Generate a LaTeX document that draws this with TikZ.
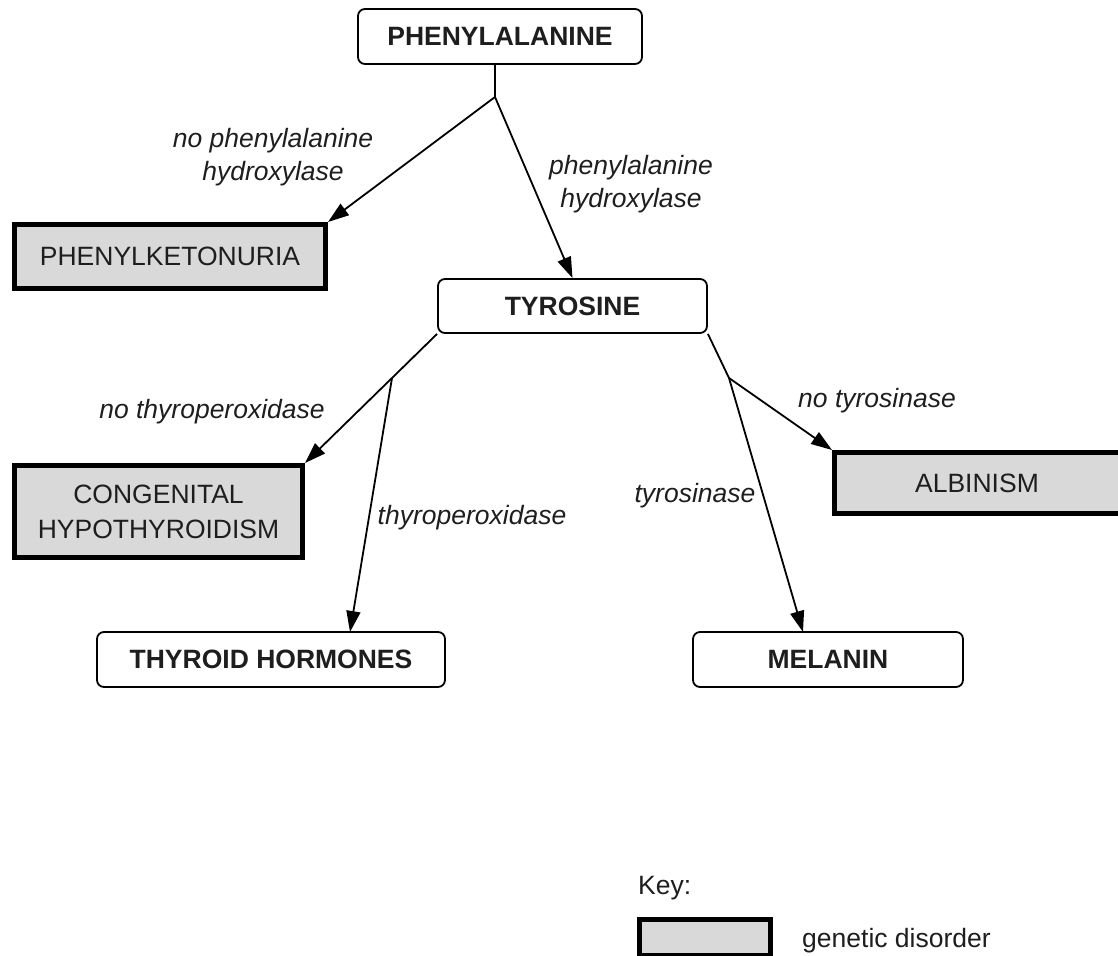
\documentclass[tikz,border=0pt]{standalone}
\usepackage{fontspec}
\setmainfont{Liberation Sans}
\usetikzlibrary{arrows.meta,calc}
\definecolor{txt}{HTML}{1E1E1E}
\definecolor{dis}{HTML}{D9D9D9}
\begin{document}
\begin{tikzpicture}[x=1pt,y=-1pt,
  every node/.style={text=txt},
  subst/.style={draw=black,line width=1.8pt,rounded corners=7pt,fill=white,
    font=\fontsize{26.5}{34}\selectfont\bfseries,inner sep=0pt},
  disorder/.style={draw=black,line width=5pt,fill=dis,
    font=\fontsize{26.5}{35}\selectfont,inner sep=0pt,align=center},
  lbl/.style={font=\fontsize{26.5}{33}\selectfont\itshape,align=center,inner sep=0pt},
  conn/.style={line width=1.8pt,draw=black},
  arr/.style={conn,-{Triangle[length=21pt,width=14pt]}}]
\useasboundingbox (0,0) rectangle (1118,955);

% substance boxes
\node[subst,minimum width=284pt,minimum height=55pt] (phe) at (500,36.5) {PHENYLALANINE};
\node[subst,minimum width=269pt,minimum height=54pt] (tyr) at (572.5,306) {TYROSINE};
\node[subst,minimum width=348pt,minimum height=55pt] (thy) at (271,659.5) {THYROID HORMONES};
\node[subst,minimum width=270pt,minimum height=55pt] (mel) at (828,659.5) {MELANIN};

% disorder boxes
\node[disorder,minimum width=311pt,minimum height=64pt] (pku) at (170,256.5) {PHENYLKETONURIA};
\node[disorder,minimum width=288pt,minimum height=92pt] (cong) at (158.5,511.5) {CONGENITAL\\HYPOTHYROIDISM};
\node[disorder,minimum width=330pt,minimum height=61pt] (alb) at (999.5,483) {\hspace*{-45pt}ALBINISM};

% branch points
\coordinate (c1) at (495,97);
\coordinate (c2) at (392,378);
\coordinate (c3) at (729,378);
\coordinate (thyin) at (350,632);
\coordinate (melin) at (803,632);

% connectors
\draw[conn] (phe.south -| c1) -- (c1);
\draw[arr] (c1) -- (pku.north east);
\draw[arr] (c1) -- (tyr.north);
\draw[conn] (tyr.south west) -- (c2);
\draw[arr] (c2) -- (cong.north east);
\draw[arr] (c2) -- (thyin);
\draw[conn] (tyr.south east) -- (c3);
\draw[arr] (c3) -- (alb.north west);
\draw[arr] (c3) -- (melin);

% labels
\node[lbl] (l1) at (273,157) {no phenylalanine\\hydroxylase};
\node[lbl] (l2) at (631,184) {phenylalanine\\hydroxylase};
\node[lbl] (l3) at (212,412) {no thyroperoxidase};
\node[lbl] (l4) at (472,518) {thyroperoxidase};
\node[lbl] (l5) at (695,496) {tyrosinase};
\node[lbl] (l6) at (877,401) {no tyrosinase};

% key
\node[font=\fontsize{26.5}{30}\selectfont,anchor=base west,inner sep=0pt] (key) at (638,894) {Key:};
\node[draw=black,line width=5pt,fill=dis,minimum width=131pt,minimum height=36pt,inner sep=0pt] (keybox) at (705,937) {};
\node[font=\fontsize{26.5}{30}\selectfont,anchor=base west,inner sep=0pt] (keytxt) at (802,947) {genetic disorder};
\end{tikzpicture}
\end{document}
